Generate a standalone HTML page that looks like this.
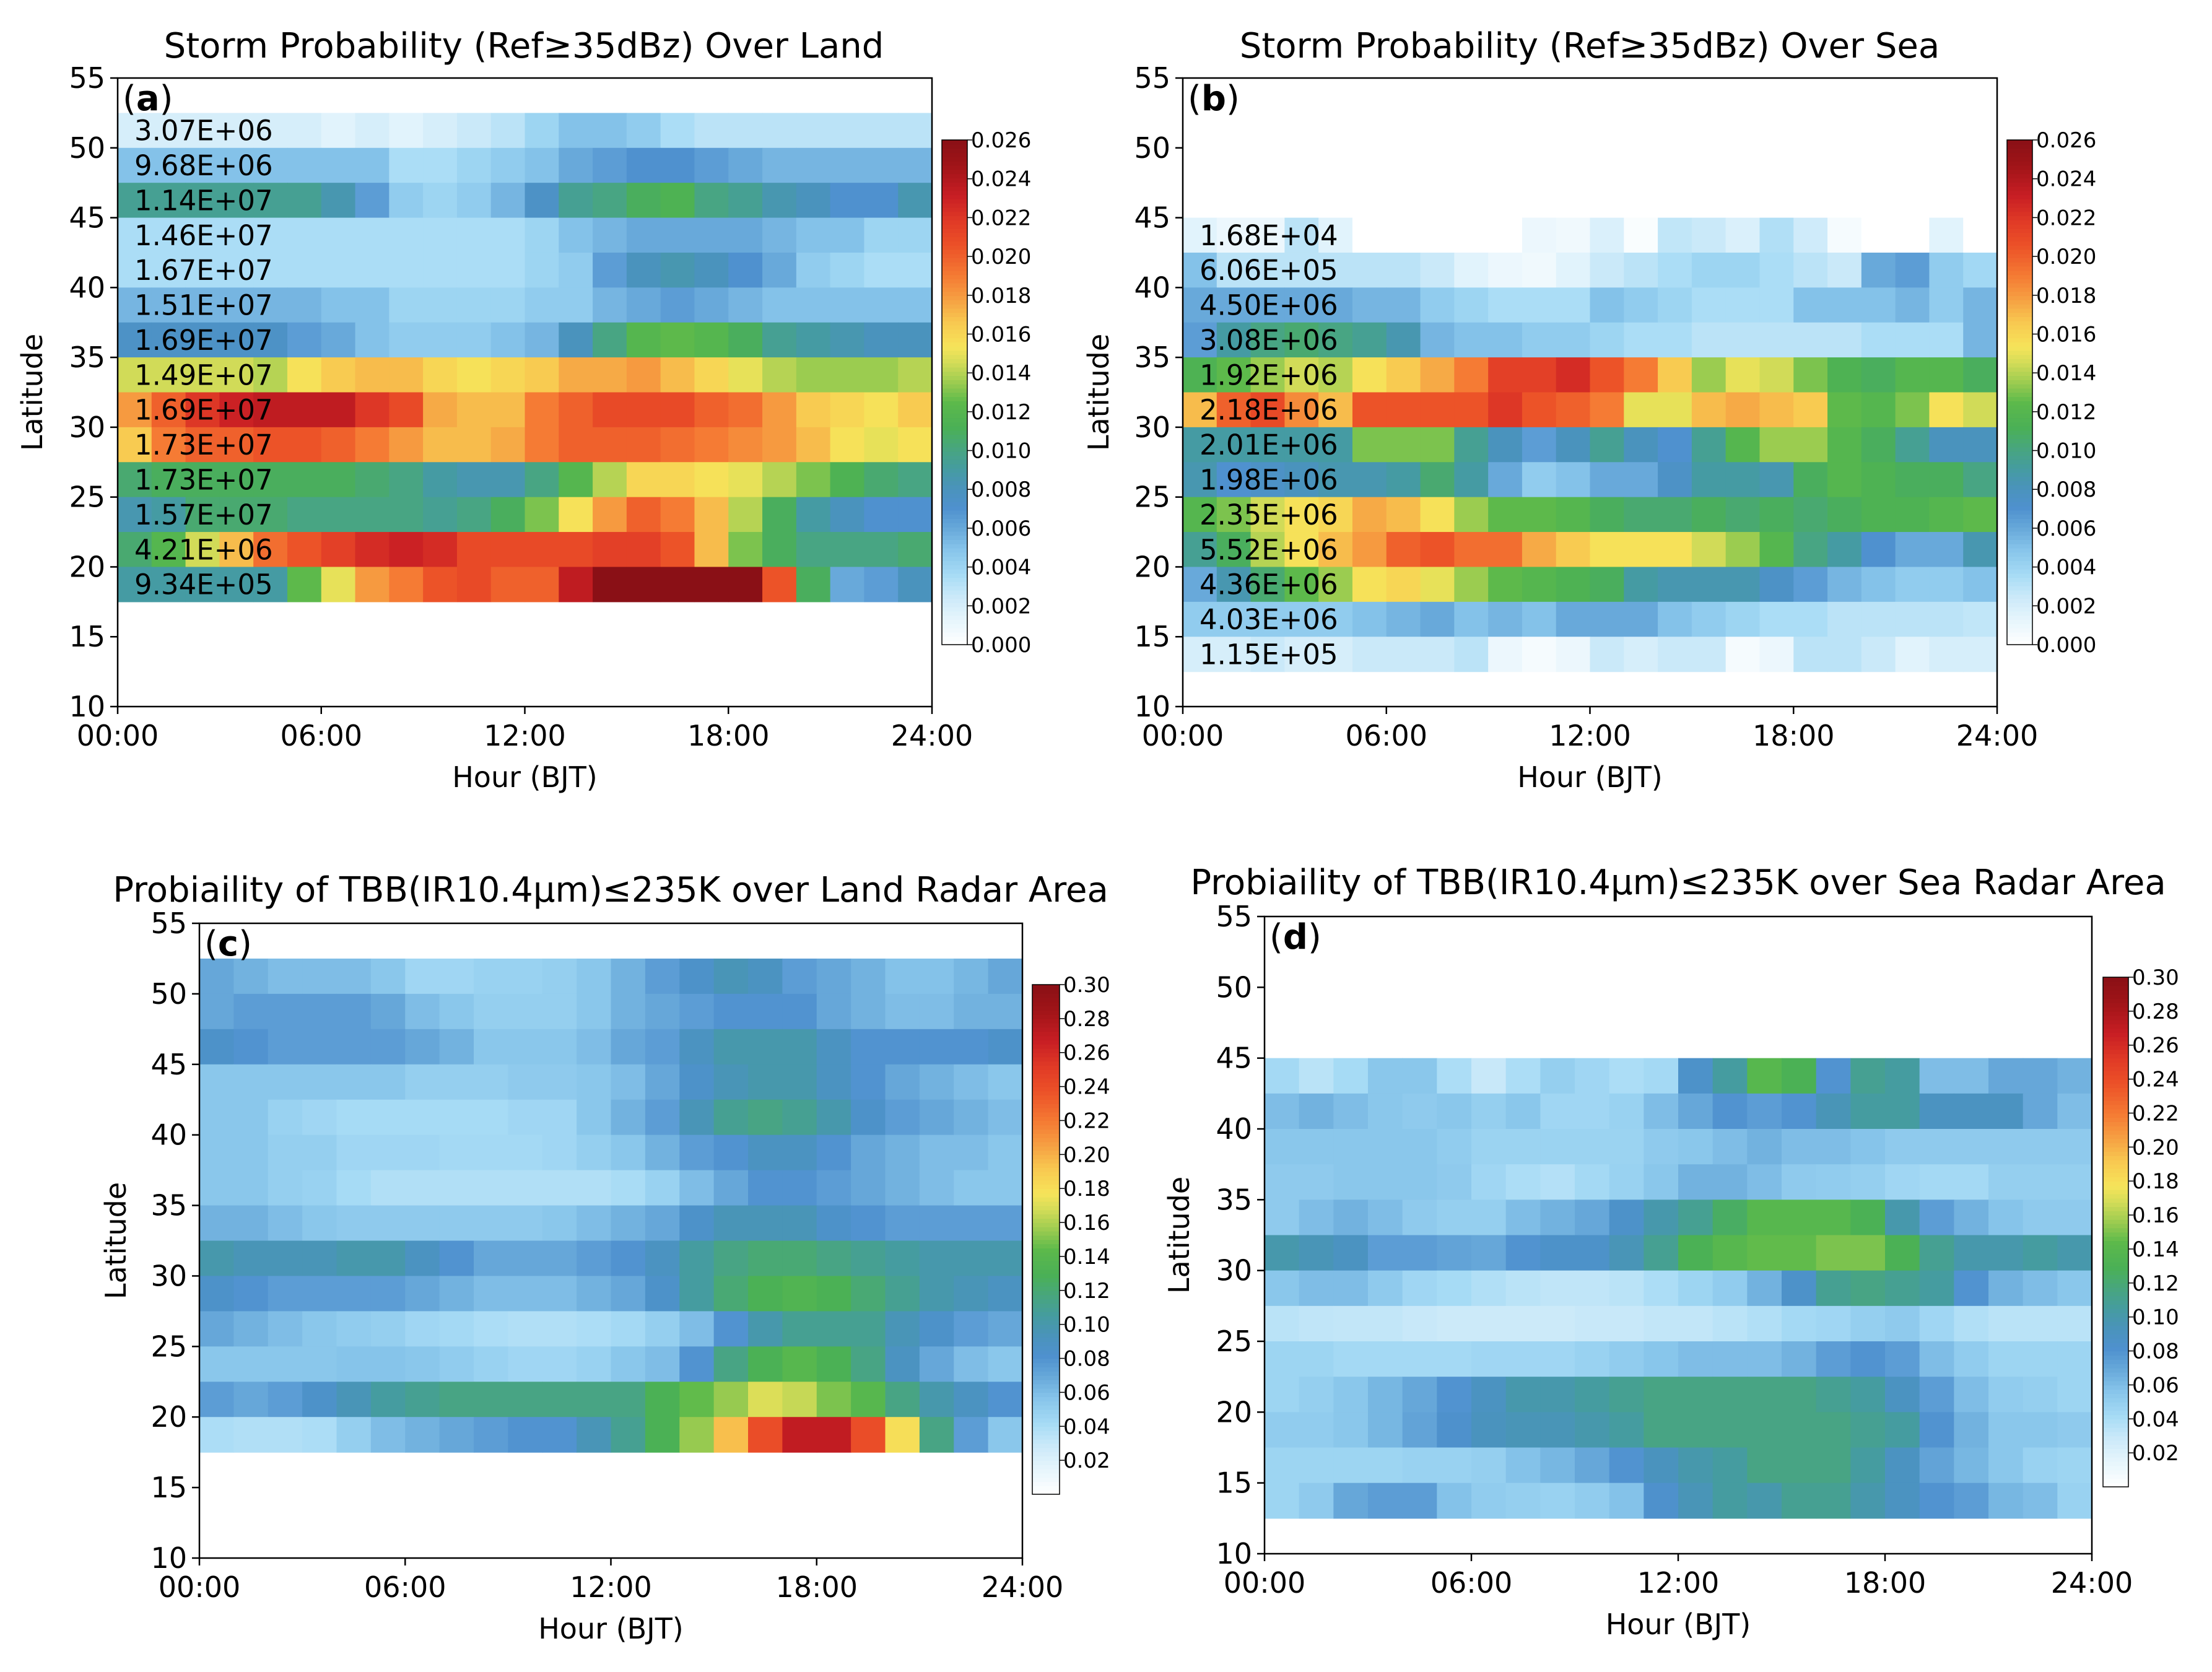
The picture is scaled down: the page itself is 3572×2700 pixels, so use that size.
<!DOCTYPE html>
<html><head><meta charset="utf-8"><style>
html,body{margin:0;padding:0;background:#fff;}
svg{display:block;font-family:"DejaVu Sans","Liberation Sans",sans-serif;}
</style></head><body>
<svg id="fig" width="3572" height="2700" viewBox="0 0 3572 2700" xmlns="http://www.w3.org/2000/svg"></svg>
<script>
// ---------- DATA ----------
const hourTicks = ["00:00","06:00","12:00","18:00","24:00"];
const latTicks = [10,15,20,25,30,35,40,45,50,55];
const stormTicks = ["0.000","0.002","0.004","0.006","0.008","0.010","0.012","0.014","0.016","0.018","0.020","0.022","0.024","0.026"];
const tbbTicks = ["0.02","0.04","0.06","0.08","0.10","0.12","0.14","0.16","0.18","0.20","0.22","0.24","0.26","0.28","0.30"];

// Panel a: storm probability over land (x0.001), rows top (50-52.5N) to bottom (17.5-20N)
const landStormCounts = ["3.07E+06","9.68E+06","1.14E+07","1.46E+07","1.67E+07","1.51E+07","1.69E+07","1.49E+07","1.69E+07","1.73E+07","1.73E+07","1.57E+07","4.21E+06","9.34E+05"];
const landStormRows = [
[2,2,2,2,2,2,1.5,2,1.5,2,2.5,3,4,5,5,4.5,3.5,3,3,3,3,3,3,3],
[5,5,5,5,5,5,5,5,3.5,3.5,4,4.5,5,6,6.5,7,7,6.5,6,5.5,5.5,5.5,5.5,5.5],
[9.5,9.5,9.5,9.5,9.5,9.5,8.5,6.5,4.5,4,4.5,5.5,7.5,9.5,10,11,11.5,10,9.5,8.5,8,7,7,8.5],
[3.5,3.5,3.5,3.5,3.5,3.5,3.5,3.5,3.5,3.5,3.5,3.5,4,5,5.5,6,6,6,6,5.5,5,5,4,4],
[3.5,3.5,3.5,3.5,3.5,3.5,3.5,3.5,3.5,3.5,3.5,3.5,4,4.5,6.5,8,8.5,8,7,6,4.5,4,3.5,3.5],
[5.5,5.5,5.5,5.5,5.5,5.5,5,5,4,4,4,4,4.5,4.5,5.5,6,6.5,6,5.5,5,5,5,5,5],
[7.5,7.5,7.5,7.5,7.5,6.5,6,5,4.5,4.5,4.5,5,5.5,8,10,12,12.5,12,11,9.5,9,8.5,8,8],
[14.5,14.5,14.5,14.5,14,15.5,16.5,17,17,16,15.5,16,16.5,17.5,17.5,18,17,16,15,14,13.5,13.5,13.5,14],
[18,20,22,23,23.5,23.5,23.5,22,21,17.5,17,17,19,20,21,21,21,20,19.5,18,16.5,16,15.5,16.5],
[16.5,19,20,20,20.5,20.5,20,19,18,17,17,17.5,19,20,20,20,19.5,19,18.5,18,17,15.5,15,15.5],
[10.5,11,11,11,11,11,11,10.5,10,9,8.5,8.5,10,12,14,16,16,15.5,15,14,13,11.5,10.5,10],
[8.5,9,10.5,10.5,10.5,10,10,10,10,9.5,10,11,13,15.5,18,20,19,17,14,11,9,8,7,7],
[10.5,12,14.5,17,19.5,20.5,21.5,22.5,23,22.5,21,21,21,21,21.5,21.5,20.5,17,13,11,10,10,10,10.5],
[9,9,9,9,9,12.5,15,18,19,20.5,21,20,20,23.5,26,26,26,26,26,20.5,11,6,6.5,8]
];

// Panel b: storm probability over sea (x0.001), rows top (42.5-45N) to bottom (12.5-15N)
const seaStormCounts = ["1.68E+04","6.06E+05","4.50E+06","3.08E+06","1.92E+06","2.18E+06","2.01E+06","1.98E+06","2.35E+06","5.52E+06","4.36E+06","4.03E+06","1.15E+05"];
const seaStormRows = [
[1.5,1,1,3,1.5,0,0,0,0,0,1,0.8,1.8,0.3,2.8,2.5,1.8,3.3,2.3,0.5,0,0,1.5,0],
[5,3,3,3,3,3,3,2.5,1.5,1,0.8,1.5,2.5,3,3.5,4,4,3.5,3,2.5,6,6.5,4.5,3.8],
[6,6,6,6,6,5.5,5.5,4.5,4,3.5,3.5,3.5,5,4.5,4,3.5,3.5,3.5,5,5,5,5.5,4.5,5.5],
[6.5,9,10,10.5,10,9.5,8.5,5.5,5,5,4.5,4.5,4,3.5,3.5,3,3,3,3,3,3.5,3.5,3.5,5.5],
[11.5,12.5,13.5,14.5,14,15.5,16.5,17.5,19,21.5,21.5,22.5,20.5,19,16.5,13.5,15,14.5,13,11.5,11,12,12,11],
[17,20,21,18.5,17,20.5,20.5,20.5,20.5,22,20.5,20,19,15,15,17,17.5,17,16.5,12.5,12,13,15.5,14.5],
[9,9,9,9,9,13,13,13,9.5,8,6.5,8,9.5,8,7,9.5,12,13.5,13.5,12,11,9.5,8,8],
[8.5,7,7.5,8,8.5,8.5,9,10.5,9,6,4.5,5,6,6,7.5,9,9,8.5,11,12,11.5,11,11,10],
[12,13,14.5,15.5,16,17.5,17,15.5,13.5,12.5,12.5,12,11,10.5,10.5,11,10.5,11,10.5,11,11.5,11.5,12,12.5],
[9.5,11,14,15.5,17,18,20,20.5,19.5,19.5,17.5,16.5,15.5,15.5,15.5,14.5,13.5,12,10,9,7,6,6,8.5],
[6,8.5,10.5,12.5,13.5,15.5,16,15,13.5,12.5,12,11.5,11,9,8.5,8.5,8.5,7.5,6.5,5.5,5,4.5,4.5,5],
[4.5,4.5,4.5,4.5,4.5,5,5.5,6,5,5.5,5,6,6,6,5,4.5,4,3.5,3.5,3,3,3,3,2.8],
[2,2,2.5,2,2,2.5,2.5,2.5,3,1,0.5,1,2.5,2,2.5,2.5,0.5,1,3,3,2.5,1.5,2,2]
];

// Panel c: TBB probability over land (%), rows top (50-52.5N) to bottom (17.5-20N)
const landTbbRows = [
[7,6.5,6,6,6,5.5,4.5,4.5,4.8,4.8,5,5.5,6.5,7.5,8.5,9.5,9,7.5,7,6.5,5.8,5.8,6.3,7],
[7,7.5,7.5,7.5,7.5,7,6,5.5,5,5,5,5.5,6.5,7,7.5,8,8,8,7,6.5,6,6,6.5,6.5],
[8.5,8,7.5,7.5,7.5,7.5,7,6.5,5.5,5.5,5.5,6,7,7.5,9,10,10,10,9,8,8,8,8,8.5],
[5.5,5.5,5.5,5.5,5.5,5.5,5,5,5,5.3,5.3,5.5,6,7,8.5,9.5,10,10,9,8,7,6.5,6,5.5],
[5.5,5.5,4.8,4.5,4.2,4.2,4.2,4.2,4.2,4.5,4.5,5.5,6.5,7.5,9.5,11,11.5,11,10,8.5,7.5,7,6.5,6],
[5.5,5.5,5,5,4.5,4.5,4.5,4.3,4.3,4.3,4.5,5,5.5,6.5,7.5,8,9,9,8,7,6.5,6,6,5.5],
[5.5,5.5,5,4.8,4.2,3.8,3.8,3.8,3.8,3.8,3.8,3.8,4.1,4.8,6,7,8,8,7.5,7,6.5,6,5.5,5.5],
[6.5,6.5,6,5.5,5.3,5.3,5.3,5.3,5.3,5.3,5.5,6,6.5,7,8.5,9.5,9.5,9.5,8.5,8,7.5,7.5,7.5,7.5],
[10,9.5,9.5,9.5,10,10,9,8,7,7,7,7.5,8,9,10.5,11.5,12,12,11.5,11,10.5,10,10,10],
[8.5,8,7.5,7.5,7.5,7.5,7,6.5,6,6,6,6.5,7,8.5,10.5,12,13,13.5,13,12,11,10,9.5,9],
[7,6.5,6,5.5,5.2,5,4.5,4.3,4,3.8,3.8,4,4.3,5,6,8,10,11,11,11,9.5,8.5,7.5,7],
[5.5,5.5,5.5,5.5,5.7,5.7,5.5,5.2,4.8,4.5,4.5,4.8,5.5,6,8,11.5,13,14,13,11.5,9,7,6,5.5],
[7.5,7,7.5,8.5,9.5,10.5,11,11.5,11.5,11.5,11.5,11.5,11.5,13,14.5,15.5,17,16.5,15,14,11.5,10,9,8],
[4,3.8,3.8,4,5,6,6.5,7,7.5,8,8,9.5,11,13,15.5,19.5,24,27,27,24,18,11.5,7.5,5.5]
];

// Panel d: TBB probability over sea (%), rows top (42.5-45N) to bottom (12.5-15N)
const seaTbbRows = [
[4.3,3.5,4.2,5.5,5.5,4,3,4,5,4.5,4,4.3,8.5,10.5,14,13,8,11,10.5,6,6,7,7,6.5],
[6,6.5,6,5.5,5.3,5.5,5,5.5,4.5,4.5,4.8,6,7,8,7.5,8,9.5,10.5,10.5,9,9,9,7,6],
[5.5,5.5,5.5,5.5,5.5,5.2,4.7,4.7,4.7,4.7,4.7,5.3,5.5,6,6.5,6,6,5.7,5.3,5.3,5.3,5.3,5.3,5.3],
[5.3,5.3,5.5,5.5,5.5,5.3,4.5,4,3.7,4.3,4.8,5.5,6.5,6.5,6,5.3,5.2,5,4.5,4.3,4.3,5,5,5],
[5.3,6,6.5,6,5.3,5,5,6,6.5,7,8.5,10,11,12.5,14,14,14,13,10,7.5,6.5,5.7,5.3,5.3],
[10,9.5,9,7.5,7.5,7.2,7,8,8.5,8.5,9.5,11,13,14,14.5,14.5,15,15,13,11,10,10,10.5,10],
[5.5,6,6,5.3,4.5,4.2,3.8,3.5,3.3,3.3,3.5,4,4.6,5.2,6.5,8.5,11,11.5,11,10.5,8,6.5,6,5.5],
[3.5,3.3,3.2,3.2,3,2.8,2.8,2.8,2.8,3,3,3.2,3.2,3.5,3.8,4.3,4.5,5,5.3,4.5,3.8,3.5,3.5,3.5],
[4.6,4.6,4.3,4.3,4.3,4.3,4.5,4.5,4.5,4.8,5.2,5.6,6,6,6,6.5,7.5,8,7.5,6,5.2,4.6,4.6,4.6],
[4.6,5,5.5,6.3,7,8,9,10,10,10.5,11,11.5,11.5,11.5,11.5,11.5,11,10.5,9,7.5,6,5.2,5,4.6],
[5.2,5.2,5.5,6.3,7.2,8.3,9.2,9.5,9.5,10,10.5,11.5,11.5,11.5,11.5,11.5,11.5,11,10.5,8,6.5,5.5,5.5,5.3],
[4.6,4.6,4.6,4.6,4.8,4.8,5,5.8,6.3,7,8,9.2,10,10.5,11.5,11.5,11.5,10.5,9,7.2,6.3,5.5,4.8,4.6],
[4.6,5.3,7,7.5,7.5,5.8,5.2,5,4.8,5.2,5.8,8.3,9.5,10.5,10,11,11,10,9,8,7.5,6.3,6,4.8]
];

// ---------- RENDER ----------
const NS = "http://www.w3.org/2000/svg";
const svg = document.getElementById("fig");
const stops = [[0,"#ffffff"],[0.05,"#e6f5fc"],[0.10,"#c8e8f9"],[0.14,"#a6dbf5"],[0.19,"#86c4ea"],[0.23,"#68a9da"],[0.27,"#4f91cf"],[0.31,"#4a93bc"],[0.35,"#459ca0"],[0.39,"#48a67e"],[0.43,"#4ab056"],[0.48,"#5cb94b"],[0.52,"#9ccc50"],[0.56,"#d4dc58"],[0.59,"#f6e45a"],[0.64,"#f8c850"],[0.68,"#f6a444"],[0.73,"#f57c34"],[0.79,"#ec5228"],[0.84,"#e03a26"],[0.89,"#c81e24"],[0.95,"#a01418"],[1,"#8a1016"]];
function hex(c){return [parseInt(c.slice(1,3),16),parseInt(c.slice(3,5),16),parseInt(c.slice(5,7),16)];}
function cmap(f){
  f=Math.max(0,Math.min(1,f));
  for(let i=1;i<stops.length;i++){
    if(f<=stops[i][0]){
      const a=stops[i-1],b=stops[i];const t=(f-a[0])/(b[0]-a[0]);
      const ca=hex(a[1]),cb=hex(b[1]);
      return "rgb("+ca.map((v,k)=>Math.round(v+(cb[k]-v)*t)).join(",")+")";
    }
  }
  return stops[stops.length-1][1];
}
function mk(tag,attrs,parent){const e=document.createElementNS(NS,tag);for(const k in attrs)e.setAttribute(k,attrs[k]);(parent||svg).appendChild(e);return e;}

function panel(p){
  const g=mk("g",{});
  
  
  const xs=h=>p.x0+h/24*(p.x1-p.x0);
  const ys=lat=>p.y0+(55-lat)/45*(p.y1-p.y0);
  p.rows.forEach((row,ri)=>{
    const latTop=p.topLat-ri*2.5;
    row.forEach((v,ci)=>{
      const r=mk("rect",{x:xs(ci),y:ys(latTop),width:xs(ci+1)-xs(ci)+0.6,height:ys(latTop-2.5)-ys(latTop)+0.6,fill:cmap(v/p.vmax)},g);
      
      
    });
    if(p.counts){
      const t=mk("text",{x:p.x0+27,y:(ys(latTop)+ys(latTop-2.5))/2+16,"font-size":45,fill:"#000"},g);
      t.textContent=p.counts[ri];
      
      
    }
  });
  const fr=mk("rect",{x:p.x0,y:p.y0,width:p.x1-p.x0,height:p.y1-p.y0,fill:"none",stroke:"#000","stroke-width":2.5},g);
  
  
  hourTicks.forEach((lab,i)=>{
    const x=xs(i*6);
    mk("line",{x1:x,x2:x,y1:p.y1,y2:p.y1+12,stroke:"#000","stroke-width":2.5},g);
    const t=mk("text",{x:x,y:p.y1+63,"font-size":46,"text-anchor":"middle"},g);
    t.textContent=lab;
    
    
  });
  latTicks.forEach(l=>{
    const y=ys(l);
    mk("line",{x1:p.x0-12,x2:p.x0,y1:y,y2:y,stroke:"#000","stroke-width":2.5},g);
    const t=mk("text",{x:p.x0-20,y:y+16,"font-size":46,"text-anchor":"end"},g);
    t.textContent=l;
    
    
  });
  const xl=mk("text",{x:(p.x0+p.x1)/2,y:p.y1+130,"font-size":46,"text-anchor":"middle"},g);
  xl.textContent="Hour (BJT)";
  
  
  const yl=mk("text",{x:0,y:0,"font-size":46,"text-anchor":"middle",transform:"translate("+p.ylx+","+((p.y0+p.y1)/2)+") rotate(-90)"},g);
  yl.textContent="Latitude";
  
  
  const ti=mk("text",{x:p.tx,y:p.ty,"font-size":56,"text-anchor":"middle"},g);
  ti.textContent=p.title;
  
  
  const pl=mk("text",{x:p.x0+8,y:p.y0+52,"font-size":56},g);
  pl.innerHTML='(<tspan font-weight="bold">'+p.letter+'</tspan>)';
  
  
  const cb=mk("g",{},g);
  
  
  const n=120;
  for(let i=0;i<n;i++){
    const yA=p.cy1-(i+1)/n*(p.cy1-p.cy0);
    mk("rect",{x:p.cx,y:yA,width:p.cw,height:(p.cy1-p.cy0)/n+0.8,fill:cmap((i+0.5)/n)},cb);
  }
  mk("rect",{x:p.cx,y:p.cy0,width:p.cw,height:p.cy1-p.cy0,fill:"none",stroke:"#000","stroke-width":1.5},cb);
  p.cticks.forEach(lab=>{
    const v=parseFloat(lab);
    const y=p.cy1-v/p.cmax*(p.cy1-p.cy0);
    mk("line",{x1:p.cx+p.cw,x2:p.cx+p.cw+8,y1:y,y2:y,stroke:"#000","stroke-width":1.5},cb);
    const t=mk("text",{x:p.cx+p.cw+6,y:y+12,"font-size":34},cb);
    t.textContent=lab;
    
    
  });
}

panel({name:"panel-a-storm-land",rows:landStormRows,counts:landStormCounts,topLat:52.5,vmax:26,
  x0:190,x1:1505,y0:126,y1:1141,ylx:68,tx:846,ty:93,letter:"a",
  title:"Storm Probability (Ref\u226535dBz) Over Land",
  cx:1521,cw:41,cy0:226,cy1:1041,cticks:stormTicks,cmax:0.026});
panel({name:"panel-b-storm-sea",rows:seaStormRows,counts:seaStormCounts,topLat:45,vmax:26,
  x0:1910,x1:3225,y0:126,y1:1141,ylx:1790,tx:2567,ty:93,letter:"b",
  title:"Storm Probability (Ref\u226535dBz) Over Sea",
  cx:3241,cw:41,cy0:226,cy1:1041,cticks:stormTicks,cmax:0.026});
panel({name:"panel-c-tbb-land",rows:landTbbRows,counts:null,topLat:52.5,vmax:30,
  x0:322,x1:1651,y0:1491,y1:2516,ylx:203,tx:986,ty:1456,letter:"c",
  title:"Probiaility of TBB(IR10.4\u03bcm)\u2264235K over Land Radar Area",
  cx:1667,cw:44,cy0:1590,cy1:2413,cticks:tbbTicks,cmax:0.30});
panel({name:"panel-d-tbb-sea",rows:seaTbbRows,counts:null,topLat:45,vmax:30,
  x0:2042,x1:3378,y0:1480,y1:2509,ylx:1920,tx:2710,ty:1444,letter:"d",
  title:"Probiaility of TBB(IR10.4\u03bcm)\u2264235K over Sea Radar Area",
  cx:3396,cw:41,cy0:1578,cy1:2401,cticks:tbbTicks,cmax:0.30});
</script>
</body></html>
